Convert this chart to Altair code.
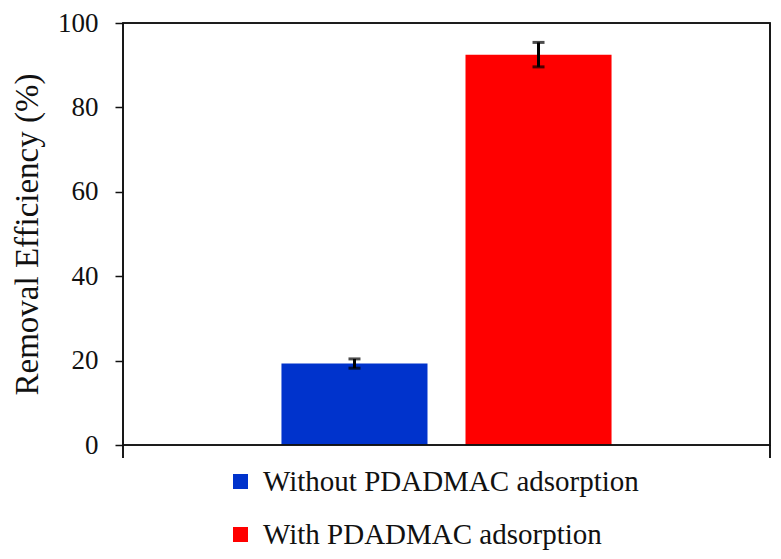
import altair as alt
import pandas as pd

conditions = ["Without PDADMAC adsorption", "With PDADMAC adsorption"]
efficiency = [19.3, 92.5]
errors = [1.1, 2.9]
colors = ["#0033CC", "#FF0000"]
y_ticks = [0, 20, 40, 60, 80, 100]

df = pd.DataFrame({"condition": conditions, "value": efficiency, "err": errors})
df["lo"] = df["value"] - df["err"]
df["hi"] = df["value"] + df["err"]

W, H = 647, 422
FONT = "Liberation Serif"
FRAME = "#111"

xscale = alt.Scale(domain=conditions, paddingInner=0.2065, paddingOuter=0.861)
x_enc = alt.X("condition:N", scale=xscale, sort=conditions, axis=None)
yscale = alt.Scale(domain=[0, 100])

bars = alt.Chart(df).mark_bar().encode(
    x=x_enc,
    y=alt.Y(
        "value:Q",
        scale=yscale,
        axis=alt.Axis(
            values=y_ticks,
            title="Removal Efficiency (%)",
            titleFont=FONT,
            titleFontSize=33,
            titleFontWeight="normal",
            titleColor="#111",
            titleX=-96,
            titleY=H / 2,
            titleAngle=-90,
            titleAlign="center",
            titleBaseline="middle",
            labelFont=FONT,
            labelFontSize=27,
            labelColor="#111",
            labelPadding=17,
            tickSize=8,
            tickColor=FRAME,
            tickWidth=1.5,
            domain=False,
            grid=False,
        ),
    ),
    color=alt.Color(
        "condition:N",
        scale=alt.Scale(domain=conditions, range=colors),
        sort=conditions,
        legend=alt.Legend(
            title=None,
            orient="none",
            legendX=103,
            legendY=444,
            direction="vertical",
            symbolType="square",
            symbolSize=225,
            symbolStrokeWidth=0,
            labelFont=FONT,
            labelFontSize=29,
            labelColor="#111",
            labelOffset=8,
            labelLimit=600,
            rowPadding=23,
        ),
    ),
)

err_rule = alt.Chart(df).mark_rule(color="black", strokeWidth=3).encode(
    x=x_enc, y=alt.Y("lo:Q", scale=yscale), y2="hi:Q"
)
cap_hi = alt.Chart(df).mark_tick(color="black", orient="horizontal", size=12, thickness=3).encode(
    x=x_enc, y=alt.Y("hi:Q", scale=yscale)
)
cap_lo = alt.Chart(df).mark_tick(color="black", orient="horizontal", size=12, thickness=3).encode(
    x=x_enc, y=alt.Y("lo:Q", scale=yscale)
)

# plot frame drawn as an outlined rectangle plus two small boundary ticks below it
frame_box = alt.Chart(df).mark_rect(
    fill=None, fillOpacity=0, stroke=FRAME, strokeWidth=1.6
).encode(x=alt.value(0), x2=alt.value(W), y=alt.value(0), y2=alt.value(H))

def frame_rule(**enc):
    return alt.Chart(df).mark_rule(color=FRAME, strokeWidth=1.6).encode(**enc)

ticks = [
    frame_rule(x=alt.value(0), y=alt.value(H), y2=alt.value(H + 13)),
    frame_rule(x=alt.value(W), y=alt.value(H), y2=alt.value(H + 13)),
]

chart = (
    alt.layer(bars, err_rule, cap_hi, cap_lo, frame_box, *ticks)
    .properties(
        width=W,
        height=H,
        autosize=alt.AutoSizeParams(type="none"),
        padding={"left": 115, "top": 15, "right": 3, "bottom": 106},
    )
    .configure_view(stroke=None)
    .configure(background="white")
)

chart.save("out.html", embed_options={"renderer": "svg", "actions": False})
